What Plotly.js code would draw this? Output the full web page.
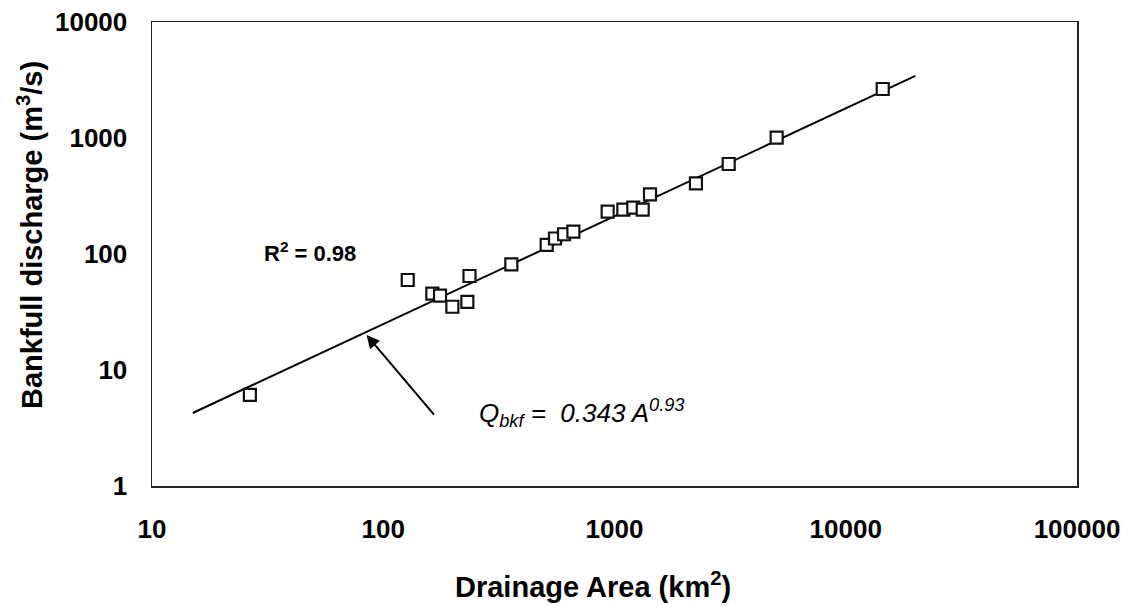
<!DOCTYPE html>
<html>
<head>
<meta charset="utf-8">
<script src="https://cdn.plot.ly/plotly-3.0.1.min.js"></script>
<style>html,body{margin:0;padding:0;background:#fff;}#chart{width:1129px;height:607px;}</style>
</head>
<body>
<div id="chart"></div>
<script>
// Observed data: drainage area (km²) and bankfull discharge (m³/s)
var drainageArea = [26.5, 127.6, 163, 176, 199, 231, 236, 358, 509, 553, 605, 664, 934, 1092, 1206, 1324, 1424, 2250, 3118, 5026, 14450];
var bankfullQ    = [6.1, 59.7, 45.5, 43.7, 35.1, 38.6, 64.6, 81.5, 120, 136, 148, 156, 232, 241, 251, 241, 327, 407, 597, 1006, 2644];

// Regression line end points (Q = 0.343 A^0.93)
var fitArea = [15, 20000];
var fitQ    = [4.26, 3430];

var xTickVals = [10, 100, 1000, 10000, 100000];
var xTickText = ["10", "100", "1000", "10000", "100000"];
var yTickVals = [1, 10, 100, 1000, 10000];
var yTickText = ["1", "10", "100", "1000", "10000"];

var xTitle = "Drainage Area (km<sup>2</sup>)";
var yTitle = "Bankfull discharge (m<sup>3</sup>/s)";

var FONT = "Liberation Sans, Arial, Helvetica, sans-serif";

var traces = [
  {
    x: fitArea, y: fitQ, type: "scatter", mode: "lines",
    line: {color: "#000", width: 2}, hoverinfo: "skip", showlegend: false
  },
  {
    x: drainageArea, y: bankfullQ, type: "scatter", mode: "markers",
    marker: {symbol: "square", size: 12, color: "#fff", line: {color: "#111", width: 2.2}},
    showlegend: false
  }
];

var layout = {
  width: 1129, height: 607,
  margin: {l: 152, r: 52, t: 22, b: 121},
  paper_bgcolor: "#fff", plot_bgcolor: "#fff",
  font: {family: FONT, color: "#000"},
  showlegend: false,
  xaxis: {
    type: "log", range: [1, 5],
    tickvals: xTickVals, ticktext: xTickText,
    ticks: "", showgrid: false, zeroline: false,
    showline: true, mirror: true, linecolor: "#222", linewidth: 1.5,
    tickfont: {family: FONT, size: 26, weight: 700, color: "#000"},
    ticklabelstandoff: 19
  },
  yaxis: {
    type: "log", range: [0, 4],
    tickvals: yTickVals, ticktext: yTickText,
    ticks: "", showgrid: false, zeroline: false,
    showline: true, mirror: true, linecolor: "#222", linewidth: 1.5,
    tickfont: {family: FONT, size: 26, weight: 700, color: "#000"},
    ticklabelstandoff: 18
  },
  annotations: [
    {
      x: 0.4768, y: -0.214, xref: "paper", yref: "paper",
      text: "<b>" + xTitle + "</b>", showarrow: false,
      font: {family: FONT, size: 29, color: "#000"}, xanchor: "center", yanchor: "middle"
    },
    {
      x: -0.1319, y: 0.5409, xref: "paper", yref: "paper",
      text: "<b>" + yTitle + "</b>", showarrow: false, textangle: -90,
      font: {family: FONT, size: 29, color: "#000"}, xanchor: "center", yanchor: "middle"
    },
    {
      x: 1.683, y: 2.015, xref: "x", yref: "y",
      text: "<b>R<sup>2</sup> = 0.98</b>", showarrow: false,
      font: {family: FONT, size: 22, color: "#000"}, xanchor: "center", yanchor: "middle"
    },
    {
      x: 2.404, y: 0.629, xref: "x", yref: "y",
      text: "<i>Q<sub>bkf</sub> =  0.343 A<sup>0.93</sup></i>", showarrow: false,
      font: {family: FONT, size: 26, color: "#000"}, xanchor: "left", yanchor: "middle"
    },
    {
      x: 1.928, y: 1.301, xref: "x", yref: "y",
      ax: 2.225, ay: 0.603, axref: "x", ayref: "y",
      text: "", showarrow: true, arrowhead: 2, arrowsize: 1.3, arrowwidth: 2, arrowcolor: "#000"
    }
  ]
};

Plotly.newPlot("chart", traces, layout, {displayModeBar: false, staticPlot: true});
</script>
</body>
</html>
